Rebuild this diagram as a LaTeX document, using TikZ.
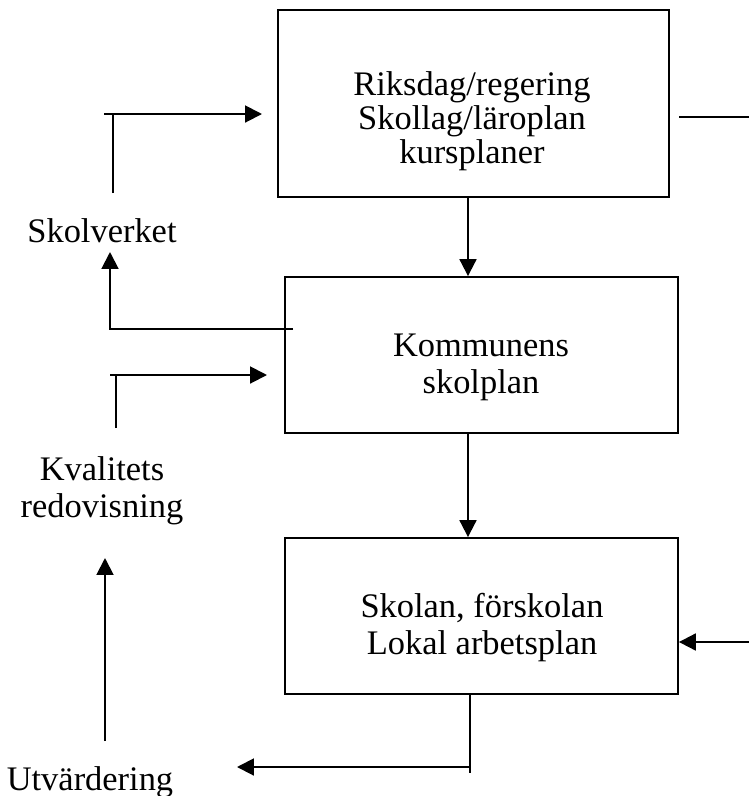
\documentclass[tikz,border=0pt]{standalone}
\usepackage{fontspec}
\setmainfont{Liberation Serif}
\usetikzlibrary{arrows.meta}

\tikzset{
  box/.style={draw, line width=1.1pt, minimum width=7.86cm, minimum height=3.12cm, inner sep=0pt},
  txt/.style={align=center, inner sep=0pt},
  arr/.style={-{Triangle[length=9.6pt,width=9.6pt]}}
}

\begin{document}
\begin{tikzpicture}[x=0.02cm, y=-0.02cm, line width=1.15pt, font=\fontsize{19.6}{21}\selectfont]
\useasboundingbox (0,0) rectangle (749,796);

% boxes
\node [box, minimum width=7.82cm, minimum height=3.74cm] (riksdag) at (473.5,103.5) {};
\node [box] (kommun) at (481.5,355) {};
\node [box] (skolan) at (481.5,616) {};

\node [txt, anchor=north] (riksdagtxt) at (472,71) {Riksdag/regering\\[-1.7pt]Skollag/läroplan\\[-1.7pt]kursplaner};
\node [txt, anchor=north] (kommuntxt) at (481,333) {Kommunens\\skolplan};
\node [txt, anchor=north] (skolantxt) at (482,592) {Skolan, förskolan\\Lokal arbetsplan};

% labels on the left
\node [txt, anchor=base] (skolverket) at (102,242) {Skolverket};
\node [txt, anchor=north] (kvalitet) at (102,456) {Kvalitets\\redovisning};
\node [txt, anchor=base] (utv) at (90,790) {Utvärdering};

% down the middle
\coordinate (mid) at (468,0);
\draw [arr] (riksdag.south -| mid) -- (kommun.north -| mid);
\draw [arr] (kommun.south -| mid) -- (skolan.north -| mid);

% Skolverket -> Riksdag
\coordinate (sv1) at (113,193);
\coordinate (sv2) at (104,114);
\coordinate (sv3) at (262,114);
\draw (sv1) -- (sv1 |- sv2);
\draw [arr] (sv2) -- (sv3);

% Kommun -> Skolverket
\coordinate (ks1) at (293,329);
\coordinate (ks2) at (110,252);
\draw [arr] (ks1) -| (ks2);

% Kvalitet -> Kommun
\coordinate (kv1) at (116,428);
\coordinate (kv2) at (110,375);
\coordinate (kv3) at (267,375);
\draw (kv1) -- (kv1 |- kv2);
\draw [arr] (kv2) -- (kv3);

% Utvardering -> Kvalitet
\coordinate (ut1) at (105,741);
\coordinate (ut2) at (105,558);
\draw [arr] (ut1) -- (ut2);

% Skolan -> Utvardering
\coordinate (su1) at (470,773);
\coordinate (su2) at (237,767);
\draw (skolan.south -| su1) -- (su1);
\draw [arr] (su1 |- su2) -- (su2);

% right side
\coordinate (r0) at (679,117);
\coordinate (r1) at (749,117);
\coordinate (r2) at (749,642);
\draw (r0) -- (r1);
\draw [arr] (r2) -- (skolan.east |- r2);
\end{tikzpicture}
\end{document}
